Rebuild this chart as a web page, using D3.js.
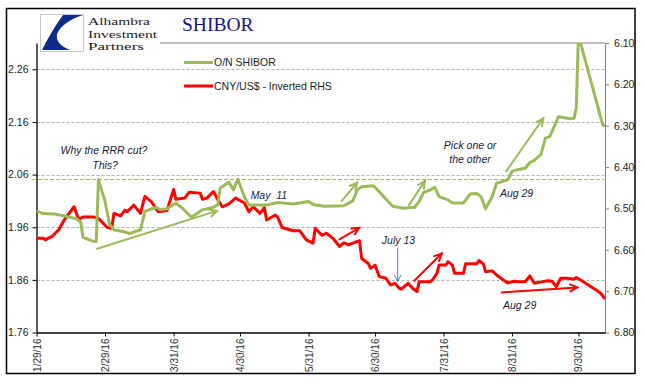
<!DOCTYPE html>
<html><head><meta charset="utf-8">
<script src="https://cdn.jsdelivr.net/npm/d3@7"></script>
<style>body{margin:0;background:#fff} svg{display:block}</style>
</head><body>
<svg id="c" width="645" height="385"></svg>
<script>
// ---------------- DATA ----------------
const shiborDates = ["2016-01-29","2016-02-01","2016-02-06","2016-02-10","2016-02-16","2016-02-18","2016-02-19","2016-02-23","2016-02-25","2016-02-26","2016-02-29","2016-03-02","2016-03-04","2016-03-08","2016-03-11","2016-03-16","2016-03-18","2016-03-23","2016-03-25","2016-03-28","2016-04-01","2016-04-04","2016-04-08","2016-04-13","2016-04-18","2016-04-20","2016-04-21","2016-04-25","2016-04-27","2016-04-29","2016-05-02","2016-05-04","2016-05-12","2016-05-17","2016-05-24","2016-05-31","2016-06-02","2016-06-07","2016-06-16","2016-06-20","2016-06-22","2016-06-24","2016-06-29","2016-06-30","2016-07-04","2016-07-08","2016-07-13","2016-07-18","2016-07-20","2016-07-22","2016-07-25","2016-07-27","2016-07-29","2016-08-02","2016-08-04","2016-08-09","2016-08-12","2016-08-15","2016-08-17","2016-08-19","2016-08-22","2016-08-24","2016-08-26","2016-08-29","2016-08-31","2016-09-02","2016-09-06","2016-09-08","2016-09-10","2016-09-13","2016-09-15","2016-09-17","2016-09-19","2016-09-21","2016-09-26","2016-09-28","2016-09-29","2016-09-30","2016-10-11","2016-10-12"];
const shiborValues = [1.991,1.986,1.985,1.982,1.976,1.970,1.941,1.934,1.933,2.050,2.009,1.966,1.955,1.952,1.948,1.955,1.990,1.998,1.993,1.995,2.006,1.996,1.979,1.993,1.998,2.003,2.034,2.046,2.031,2.051,2.018,2.002,2.002,2.007,2.004,2.009,2.003,2.000,2.001,2.010,2.031,2.037,2.039,2.036,2.018,2.000,1.996,1.998,2.009,2.026,2.031,2.036,2.018,2.012,2.006,2.006,2.023,2.024,2.018,1.995,2.018,2.044,2.046,2.050,2.066,2.069,2.072,2.083,2.087,2.098,2.129,2.132,2.151,2.170,2.166,2.167,2.186,2.325,2.154,2.153];

const cnyDates = ["2016-01-29","2016-02-01","2016-02-02","2016-02-04","2016-02-05","2016-02-08","2016-02-11","2016-02-15","2016-02-17","2016-02-19","2016-02-24","2016-02-26","2016-03-01","2016-03-03","2016-03-04","2016-03-07","2016-03-09","2016-03-10","2016-03-13","2016-03-16","2016-03-18","2016-03-21","2016-03-24","2016-03-28","2016-03-31","2016-04-01","2016-04-05","2016-04-07","2016-04-12","2016-04-13","2016-04-15","2016-04-18","2016-04-20","2016-04-22","2016-04-25","2016-04-28","2016-05-02","2016-05-04","2016-05-06","2016-05-09","2016-05-11","2016-05-12","2016-05-16","2016-05-17","2016-05-19","2016-05-24","2016-05-27","2016-05-30","2016-06-02","2016-06-03","2016-06-06","2016-06-08","2016-06-11","2016-06-14","2016-06-16","2016-06-18","2016-06-20","2016-06-23","2016-06-24","2016-06-27","2016-06-28","2016-06-30","2016-07-02","2016-07-05","2016-07-07","2016-07-09","2016-07-11","2016-07-12","2016-07-15","2016-07-17","2016-07-19","2016-07-20","2016-07-25","2016-07-26","2016-07-28","2016-07-29","2016-08-01","2016-08-02","2016-08-04","2016-08-05","2016-08-09","2016-08-10","2016-08-15","2016-08-16","2016-08-18","2016-08-19","2016-08-22","2016-08-24","2016-08-27","2016-08-29","2016-09-01","2016-09-03","2016-09-06","2016-09-08","2016-09-10","2016-09-14","2016-09-16","2016-09-18","2016-09-20","2016-09-22","2016-09-25","2016-09-28","2016-09-29","2016-10-01","2016-10-05","2016-10-08","2016-10-10","2016-10-12"];
const cnyValues = [6.572,6.572,6.576,6.570,6.568,6.552,6.524,6.496,6.526,6.521,6.521,6.524,6.546,6.548,6.512,6.518,6.504,6.508,6.492,6.512,6.471,6.484,6.508,6.505,6.454,6.478,6.475,6.461,6.463,6.478,6.475,6.459,6.479,6.496,6.489,6.475,6.487,6.508,6.496,6.512,6.498,6.528,6.516,6.521,6.546,6.554,6.554,6.576,6.584,6.548,6.565,6.560,6.572,6.592,6.583,6.588,6.584,6.578,6.621,6.633,6.645,6.637,6.665,6.669,6.685,6.681,6.693,6.695,6.681,6.693,6.701,6.677,6.677,6.673,6.657,6.637,6.637,6.629,6.637,6.657,6.657,6.634,6.634,6.626,6.634,6.653,6.651,6.661,6.673,6.680,6.676,6.677,6.677,6.663,6.681,6.677,6.675,6.676,6.689,6.669,6.669,6.671,6.667,6.673,6.687,6.697,6.705,6.719];

const xTickDates = ["2016-01-29","2016-02-29","2016-03-31","2016-04-30","2016-05-31","2016-06-30","2016-07-31","2016-08-31","2016-09-30"];
const xTickLabels = ["1/29/16","2/29/16","3/31/16","4/30/16","5/31/16","6/30/16","7/31/16","8/31/16","9/30/16"];
const leftTicks = [1.76,1.86,1.96,2.06,2.16,2.26];
const leftGrid = [1.86,1.96,2.06,2.16,2.26];
const rightTicks = [6.10,6.20,6.30,6.40,6.50,6.60,6.70,6.80];
const seriesNames = ["O/N SHIBOR","CNY/US$ - Inverted RHS"];
const shiborReference = 2.051;
const xDomain = ["2016-01-29","2016-10-12"];
const leftDomain = [1.76, 2.31];
const rightDomain = [6.10, 6.80];

// annotations in data space: [dayOffset from start, value]
const greenArrows = [[[27.4,1.919],[81.6,1.991]],[[138.0,2.010],[145.0,2.045]],[[168.4,2.002],[175.6,2.048]],[[212.3,2.066],[229.1,2.167]]];
const redArrows = [[[136.9,6.575],[145.9,6.547]],[[170.8,6.675],[183.2,6.609]],[[210.3,6.703],[244.5,6.691]]];
const blueArrow = [[163.3,6.596],[163.3,6.677]];
const leftNotes = [["Why the RRR cut?",30.5,2.099,"middle"],["This?",31.0,2.0706,"middle"],["May  11",96.8,2.013,"start"],["Pick one or",196.0,2.109,"middle"],["the other",196.0,2.0815,"middle"],["Aug 29",209.5,2.018,"start"]];
const rightNotes = [["July 13",156.1,6.586,"start"],["Aug 29",210.9,6.743,"start"]];

// ---------------- CHART ----------------
const parse = d3.utcParse("%Y-%m-%d");
const L = 36.5, R = 605, T = 43, B = 332.5;
const GREEN = "#9bbb59", RED = "#ff0000", NOTE = "#1a1a40";
const svg = d3.select("#c");
const x = d3.scaleUtc().domain(xDomain.map(parse)).range([L, R]);
const yL = d3.scaleLinear().domain(leftDomain).range([B, T]);
const yR = d3.scaleLinear().domain(rightDomain).range([T, B]);
const start = parse(xDomain[0]);
const dx = d => x(new Date(start.getTime() + d * 864e5));

// outer frame
svg.append("rect").attr("x",6.5).attr("y",8.5).attr("width",628.5).attr("height",365)
  .attr("fill","none").attr("stroke","#000").attr("stroke-width",1.5);

// gridlines
svg.append("g").selectAll("line").data(leftGrid).join("line")
  .attr("x1",L).attr("x2",R).attr("y1",d=>Math.round(yL(d))+0.5).attr("y2",d=>Math.round(yL(d))+0.5)
  .attr("stroke","#b4b4b4").attr("stroke-dasharray","3,2").attr("stroke-width",1);

// green reference dashed line
svg.append("line").attr("x1",32).attr("x2",604)
  .attr("y1",Math.round(yL(shiborReference))+0.5).attr("y2",Math.round(yL(shiborReference))+0.5)
  .attr("stroke",GREEN).attr("stroke-dasharray","4,2").attr("stroke-width",1);

// top plot border
svg.append("line").attr("x1",160).attr("x2",R).attr("y1",T).attr("y2",T).attr("stroke","#808080");

// axes
const fmt = d3.format(".2f");
const fontAxis = "'Liberation Sans', Arial, sans-serif";
const gL = svg.append("g").attr("transform",`translate(${L},0)`)
  .call(d3.axisLeft(yL).tickValues(leftTicks).tickFormat(fmt).tickSize(4).tickPadding(4).tickSizeOuter(0));
gL.select(".domain").attr("stroke","#000").attr("stroke-width",1.3);
gL.selectAll("text").attr("font-family",fontAxis).attr("font-size","10.5px").attr("fill","#222");

const gR = svg.append("g").attr("transform",`translate(${R},0)`)
  .call(d3.axisRight(yR).tickValues(rightTicks).tickFormat(fmt).tickSize(4).tickPadding(5).tickSizeOuter(0));
gR.select(".domain").attr("stroke","#808080");
gR.selectAll("line").attr("stroke","#808080");
gR.selectAll("text").attr("font-family",fontAxis).attr("font-size","10.5px").attr("fill","#222");

const gB = svg.append("g").attr("transform",`translate(0,${B})`)
  .call(d3.axisBottom(x).tickValues(xTickDates.map(parse)).tickFormat((d,i)=>xTickLabels[i]).tickSize(4).tickSizeOuter(0));
gB.select(".domain").attr("stroke","#000").attr("stroke-width",1.3);
gB.selectAll("text").attr("font-family",fontAxis).attr("font-size","10px").attr("fill","#333")
  .attr("transform","rotate(-90)").attr("text-anchor","end").attr("x",-6).attr("y",0).attr("dy","0.35em");

// clip
svg.append("clipPath").attr("id","plotclip").append("rect").attr("x",L).attr("y",T).attr("width",R-L+2).attr("height",B-T);

// series
const gData = svg.append("g").attr("clip-path","url(#plotclip)");
const shibor = shiborDates.map((d,i)=>({date:parse(d), v:shiborValues[i]}));
const cny = cnyDates.map((d,i)=>({date:parse(d), v:cnyValues[i]}));
gData.append("path").datum(cny)
  .attr("d", d3.line().x(d=>x(d.date)).y(d=>yR(d.v)))
  .attr("fill","none").attr("stroke",RED).attr("stroke-width",3).attr("stroke-linejoin","round");
gData.append("path").datum(shibor)
  .attr("d", d3.line().x(d=>x(d.date)).y(d=>yL(d.v)))
  .attr("fill","none").attr("stroke",GREEN).attr("stroke-width",3).attr("stroke-linejoin","round");

// arrows
function arrow(p0, p1, color, w, head) {
  const g = svg.append("g").attr("stroke",color).attr("stroke-width",w).attr("fill","none").attr("stroke-linecap","round");
  g.append("line").attr("x1",p0[0]).attr("y1",p0[1]).attr("x2",p1[0]).attr("y2",p1[1]);
  const a = Math.atan2(p1[1]-p0[1], p1[0]-p0[0]);
  const h1 = [p1[0]-head*Math.cos(a-0.45), p1[1]-head*Math.sin(a-0.45)];
  const h2 = [p1[0]-head*Math.cos(a+0.45), p1[1]-head*Math.sin(a+0.45)];
  g.append("path").attr("d",`M${h1[0]},${h1[1]}L${p1[0]},${p1[1]}L${h2[0]},${h2[1]}`).attr("stroke-linejoin","miter");
}
greenArrows.forEach(a => arrow([dx(a[0][0]), yL(a[0][1])], [dx(a[1][0]), yL(a[1][1])], GREEN, 2, 8));
redArrows.forEach(a => arrow([dx(a[0][0]), yR(a[0][1])], [dx(a[1][0]), yR(a[1][1])], RED, 2, 8));
arrow([dx(blueArrow[0][0]), yR(blueArrow[0][1])], [dx(blueArrow[1][0]), yR(blueArrow[1][1])], "#4f81bd", 1, 7);

// annotation text
const fontNote = "'Liberation Sans', Arial, sans-serif";
leftNotes.forEach(n => svg.append("text").attr("x",dx(n[1])).attr("y",yL(n[2])).attr("text-anchor",n[3])
  .attr("font-family",fontNote).attr("font-style","italic").attr("font-size","10.5px").attr("fill",NOTE).attr("xml:space","preserve").text(n[0]));
rightNotes.forEach(n => svg.append("text").attr("x",dx(n[1])).attr("y",yR(n[2])).attr("text-anchor",n[3])
  .attr("font-family",fontNote).attr("font-style","italic").attr("font-size","10.5px").attr("fill",NOTE).text(n[0]));

// legend
const leg = svg.append("g");
[[GREEN,62.5],[RED,86]].forEach((c,i) => {
  leg.append("line").attr("x1",184).attr("x2",213).attr("y1",c[1]).attr("y2",c[1]).attr("stroke",c[0]).attr("stroke-width",3);
  leg.append("text").attr("x",214).attr("y",c[1]+3.8).attr("font-family",fontAxis).attr("font-size","10.5px").attr("fill","#222").text(seriesNames[i]);
});

// logo
const logo = svg.append("g");
logo.append("rect").attr("x",40.5).attr("y",14.5).attr("width",43).attr("height",37).attr("fill","#fff").attr("stroke","#c8c8c8");
logo.append("path").attr("d","M83,15 L63,15 Q52,30 42,50 L70,50 Q55,44 57,34 Q62,22 83,15 Z").attr("fill","#0b2a8a");
const serif = "'Liberation Serif','Times New Roman',serif";
[["Alhambra",25.3,62],["Investment",37.6,69],["Partners",49.9,56]].forEach(t =>
  logo.append("text").attr("x",88).attr("y",t[1]).attr("font-family",serif).attr("font-size","11px")
    .attr("fill","#222").attr("textLength",t[2]).attr("lengthAdjust","spacingAndGlyphs").text(t[0]));

// title
svg.append("text").attr("x",182).attr("y",30.7).attr("font-family",serif).attr("font-size","19.5px")
  .attr("fill","#14148c").text("SHIBOR");
</script>
</body></html>
